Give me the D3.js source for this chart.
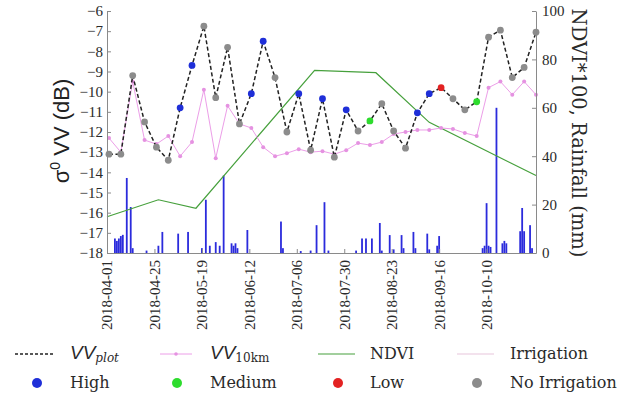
<!DOCTYPE html>
<html><head><meta charset="utf-8">
<script src="https://cdn.jsdelivr.net/npm/d3@7"></script>
<style>
html,body{margin:0;padding:0;background:#fff;}
svg{display:block;}
.serif{font-family:"Liberation Serif","DejaVu Serif","Times New Roman",serif;}
.wserif{font-family:"DejaVu Serif","Liberation Serif",serif;}
.sans{font-family:"Liberation Sans",Arial,sans-serif;}
</style></head>
<body>
<svg id="chart" width="636" height="399"></svg>
<script>
// ---------------- data ----------------
const vvDates = ["2018-04-02","2018-04-08","2018-04-14","2018-04-20","2018-04-26","2018-05-02","2018-05-08","2018-05-14","2018-05-20","2018-05-26",
"2018-06-01","2018-06-07","2018-06-13","2018-06-19","2018-06-25","2018-07-01","2018-07-07","2018-07-13","2018-07-19","2018-07-25",
"2018-07-31","2018-08-06","2018-08-12","2018-08-18","2018-08-24","2018-08-30","2018-09-05","2018-09-11","2018-09-17","2018-09-23",
"2018-09-29","2018-10-05","2018-10-11","2018-10-17","2018-10-23","2018-10-29","2018-11-04"];
const vvPlot = [-13.1,-13.1,-9.2,-11.5,-12.75,-13.4,-10.8,-8.7,-6.75,-10.3,
-7.8,-11.6,-10.1,-7.5,-9.3,-12.0,-10.1,-12.9,-10.35,-13.25,
-10.9,-11.95,-11.45,-10.6,-11.95,-12.8,-11.05,-10.1,-9.8,-10.35,
-10.9,-10.5,-7.3,-6.95,-9.3,-8.8,-7.05];
const vv10km = [-12.3,-13.0,-9.5,-12.4,-12.6,-12.2,-13.2,-12.5,-9.9,-13.3,
-10.7,-11.6,-11.8,-12.75,-13.2,-13.05,-12.85,-13.0,-12.95,-13.1,
-12.9,-12.55,-12.65,-12.5,-12.1,-12.0,-11.9,-11.9,-11.8,-11.85,
-12.05,-12.2,-9.8,-9.5,-10.15,-9.5,-10.15];
// irrigation class per VV point: H=High, M=Medium, L=Low, N=No irrigation
const irrClass = ["N","N","N","N","N","N","H","H","N","N",
"N","N","H","H","N","N","H","N","H","N",
"H","N","M","N","N","N","H","H","L","N",
"N","M","N","N","N","N","N"];

const ndviDates = ["2018-04-01","2018-04-27","2018-05-16","2018-07-15","2018-08-15","2018-09-11","2018-11-04"];
const ndviValues = [15, 22, 18.5, 75.5, 74.5, 54, 32];

const rainDates = ["2018-04-05","2018-04-06","2018-04-07","2018-04-08","2018-04-09","2018-04-11","2018-04-13","2018-04-14","2018-04-21","2018-04-27",
"2018-04-29","2018-05-07","2018-05-12","2018-05-19","2018-05-21","2018-05-23","2018-05-26","2018-05-28","2018-05-30","2018-06-03",
"2018-06-04","2018-06-05","2018-06-06","2018-06-11","2018-06-28","2018-06-29","2018-07-08","2018-07-13","2018-07-16","2018-07-20",
"2018-07-22","2018-08-05","2018-08-08","2018-08-10","2018-08-13","2018-08-17","2018-08-18","2018-08-22","2018-08-24","2018-08-28",
"2018-08-29","2018-09-03","2018-09-04","2018-09-10","2018-09-11","2018-09-15","2018-09-16","2018-10-08","2018-10-09","2018-10-10",
"2018-10-11","2018-10-12","2018-10-15","2018-10-18","2018-10-19","2018-10-20","2018-10-27","2018-10-28","2018-10-29","2018-11-01","2018-11-02"];
const rainValues = [6,5,6,7,7.5,31,19,2,1,3,
8.7,8,8.7,2,22,3,4.5,3,32,4,
3,4,2,9.5,13,2,0.8,1,11.5,21,
1,1,6,6,6,12.4,1,7.4,1.5,7.4,
2,8.7,2,8,1.5,3,7,2,3,20.6,
3,2.5,60,4,5,4,9,18.6,9,11.5,2];

const xTickDates = ["2018-04-01","2018-04-25","2018-05-19","2018-06-12","2018-07-06","2018-07-30","2018-08-23","2018-09-16","2018-10-10"];
const leftTicks = [-6,-7,-8,-9,-10,-11,-12,-13,-14,-15,-16,-17,-18];
const rightTicks = [0,20,40,60,80,100];

// ---------------- drawing ----------------
const parse = d3.utcParse("%Y-%m-%d");
const svg = d3.select("#chart");
const L = 107, R = 536, T = 11, B = 253;

const x = d3.scaleUtc().domain([parse("2018-04-01"), parse("2018-11-04")]).range([L, R]);
const yL = d3.scaleLinear().domain([-18, -6]).range([B, T]);
const yR = d3.scaleLinear().domain([0, 100]).range([B, T]);

const axisCol = "#8a8a8a";

// rainfall bars
svg.append("g").selectAll("rect").data(rainDates).join("rect")
  .attr("x", (d) => x(parse(d)) - 0.9)
  .attr("width", 1.8)
  .attr("y", (d, i) => yR(rainValues[i]))
  .attr("height", (d, i) => yR(0) - yR(rainValues[i]))
  .attr("fill", "#2b2bdc");

// NDVI line
svg.append("path")
  .datum(ndviDates.map((d, i) => [parse(d), ndviValues[i]]))
  .attr("d", d3.line().x(d => x(d[0])).y(d => yR(d[1])))
  .attr("fill", "none").attr("stroke", "#46a03c").attr("stroke-width", 1.2);

// VV 10km
const pts10 = vvDates.map((d, i) => [parse(d), vv10km[i]]);
svg.append("path").datum(pts10)
  .attr("d", d3.line().x(d => x(d[0])).y(d => yL(d[1])))
  .attr("fill", "none").attr("stroke", "#ec9ee8").attr("stroke-width", 1);
svg.append("g").selectAll("circle").data(pts10).join("circle")
  .attr("cx", d => x(d[0])).attr("cy", d => yL(d[1])).attr("r", 2)
  .attr("fill", "#e592e1");

// VV plot
const ptsVV = vvDates.map((d, i) => [parse(d), vvPlot[i], irrClass[i]]);
svg.append("path").datum(ptsVV)
  .attr("d", d3.line().x(d => x(d[0])).y(d => yL(d[1])))
  .attr("fill", "none").attr("stroke", "#222").attr("stroke-width", 1.5)
  .attr("stroke-dasharray", "4,2.5");
const classCol = {H: "#1f2fd8", M: "#2edc2e", L: "#e32222", N: "#8c8c8c"};
svg.append("g").selectAll("circle").data(ptsVV).join("circle")
  .attr("cx", d => x(d[0])).attr("cy", d => yL(d[1])).attr("r", 3.4)
  .attr("fill", d => classCol[d[2]]);

// axes
const gL = svg.append("g").attr("transform", `translate(${L},0)`)
  .call(d3.axisLeft(yL).tickValues(leftTicks).tickSizeInner(-4).tickSizeOuter(0).tickPadding(4));
const gR = svg.append("g").attr("transform", `translate(${R},0)`)
  .call(d3.axisRight(yR).tickValues(rightTicks).tickSizeInner(-4).tickSizeOuter(0).tickPadding(6));
const gB = svg.append("g").attr("transform", `translate(0,${B})`)
  .call(d3.axisBottom(x).tickValues(xTickDates.map(parse)).tickFormat(d3.utcFormat("%Y-%m-%d"))
    .tickSizeInner(-4).tickSizeOuter(0));
[gL, gR, gB].forEach(g => {
  g.attr("font-family", null).attr("font-size", null).attr("class", "serif");
  g.select(".domain").attr("stroke", axisCol);
  g.selectAll(".tick line").attr("stroke", axisCol);
  g.selectAll("text").attr("font-size", 15).attr("fill", "#2a2a2a");
});
gB.selectAll("text")
  .attr("transform", "rotate(-90)")
  .attr("text-anchor", "end")
  .attr("x", -7).attr("y", 0).attr("dy", "0.33em");

// axis titles
const lt = svg.append("text").attr("class", "sans")
  .attr("transform", "translate(69,131) rotate(-90)")
  .attr("text-anchor", "middle")
  .attr("font-size", 22).attr("fill", "#222");
lt.append("tspan").text("σ");
lt.append("tspan").attr("font-size", 14).attr("dy", -9).text("0");
lt.append("tspan").attr("dy", 9).text(" VV (dB)");

svg.append("text").attr("class", "wserif")
  .attr("transform", "translate(572,133) rotate(90)")
  .attr("text-anchor", "middle")
  .attr("font-size", 19.5).attr("fill", "#2a2a2a")
  .text("NDVI*100, Rainfall (mm)");

// legend
const lg = svg.append("g").attr("class", "wserif").attr("font-size", 16).attr("fill", "#2a2a2a");
const r1 = 354, r2 = 383;
lg.append("line").attr("x1", 15).attr("x2", 55).attr("y1", r1).attr("y2", r1)
  .attr("stroke", "#222").attr("stroke-width", 1.3).attr("stroke-dasharray", "3,2");
const t1 = lg.append("text").attr("x", 70).attr("y", r1 + 5);
t1.append("tspan").attr("class", "sans").attr("font-style", "italic").attr("font-size", 19).text("VV");
t1.append("tspan").attr("font-style", "italic").attr("font-size", 12).attr("dy", 3).text("plot");

lg.append("line").attr("x1", 160).attr("x2", 192).attr("y1", r1).attr("y2", r1)
  .attr("stroke", "#ec9ee8").attr("stroke-width", 1);
lg.append("circle").attr("cx", 176).attr("cy", r1).attr("r", 1.8).attr("fill", "#e592e1");
const t2 = lg.append("text").attr("x", 210).attr("y", r1 + 5);
t2.append("tspan").attr("class", "sans").attr("font-style", "italic").attr("font-size", 19).text("VV");
t2.append("tspan").attr("font-size", 12).attr("dy", 3).text("10km");

lg.append("line").attr("x1", 318).attr("x2", 355).attr("y1", r1).attr("y2", r1)
  .attr("stroke", "#46a03c").attr("stroke-width", 1.2);
lg.append("text").attr("x", 370).attr("y", r1 + 5).text("NDVI");

lg.append("line").attr("x1", 457).attr("x2", 494).attr("y1", r1).attr("y2", r1)
  .attr("stroke", "#e8c6dc").attr("stroke-width", 1.2);
lg.append("text").attr("x", 510).attr("y", r1 + 5).text("Irrigation");

const row2 = [["H", 37, 70, "High"], ["M", 177, 210, "Medium"], ["L", 338, 370, "Low"], ["N", 477, 510, "No Irrigation"]];
row2.forEach(([k, cx, tx, label]) => {
  lg.append("circle").attr("cx", cx).attr("cy", r2).attr("r", 5).attr("fill", classCol[k]);
  lg.append("text").attr("x", tx).attr("y", r2 + 5).text(label);
});
</script>
</body></html>
